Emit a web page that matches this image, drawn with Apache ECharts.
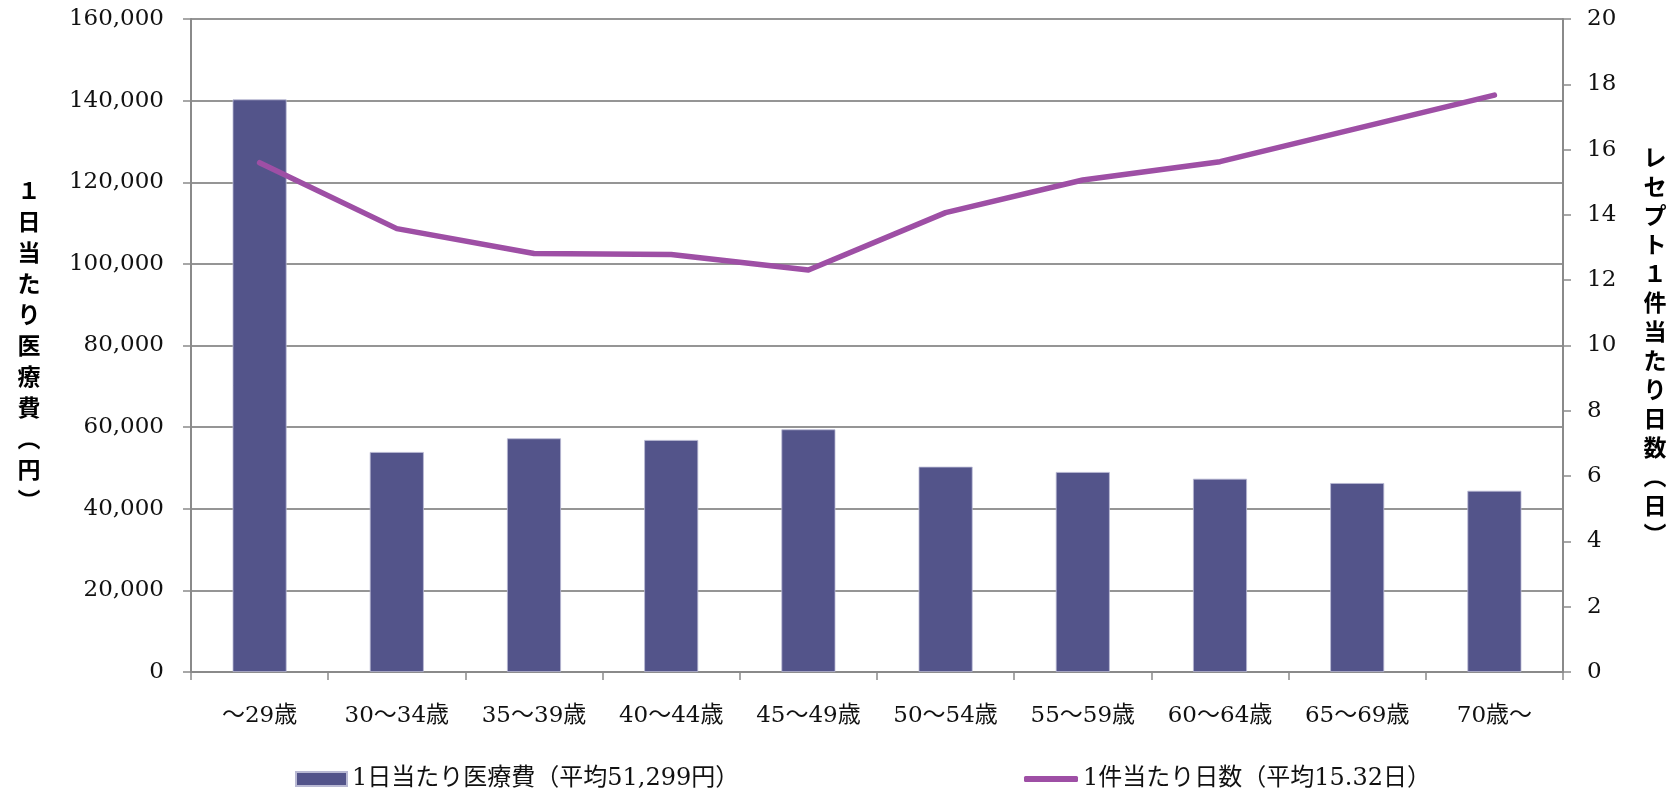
<!DOCTYPE html>
<html>
<head>
<meta charset="utf-8">
<script src="https://cdn.jsdelivr.net/npm/echarts@6/dist/echarts.min.js"></script>
<style>
html,body{margin:0;padding:0;background:#fff;}
#chart{width:1674px;height:791px;}
</style>
</head>
<body>
<div id="chart"></div>
<script>
// ---- data ----
const categories = ['～29歳','30～34歳','35～39歳','40～44歳','45～49歳','50～54歳','55～59歳','60～64歳','65～69歳','70歳～'];
const costPerDay = [140300, 53900, 57250, 56850, 59450, 50300, 49000, 47350, 46300, 44400];
const daysPerClaim = [15.60, 13.58, 12.82, 12.79, 12.31, 14.07, 15.07, 15.63, 16.65, 17.67];
const barName = '1日当たり医療費（平均51,299円）';
const lineName = '1件当たり日数（平均15.32日）';
const leftAxisTitle = '１日当たり医療費︵円︶';
const rightAxisTitle = 'レセプト１件当たり日数︵日︶';

const serif = '"DejaVu Serif", "Noto Sans CJK JP", serif';
const cjkBold = '"Noto Sans CJK JP", sans-serif';
const gridGray = '#959595';
const axisGray = '#8a8a8a';

const chart = echarts.init(document.getElementById('chart'), null, {renderer: 'canvas'});
chart.setOption({
  animation: false,
  backgroundColor: '#ffffff',
  grid: {left: 191, right: 111, top: 19, bottom: 119, containLabel: false},
  legend: [
    {
      data: [{name: barName, icon: 'rect'}], left: 290, top: 762, itemWidth: 51, itemHeight: 14, itemGap: 6,
      textStyle: {fontFamily: serif, fontSize: 24, color: '#111'}
    },
    {
      data: [{name: lineName, icon: 'roundRect'}], left: 1019, top: 762, itemWidth: 54, itemHeight: 6, itemGap: 4,
      textStyle: {fontFamily: serif, fontSize: 24, color: '#111'}
    }
  ],
  xAxis: {
    type: 'category',
    data: categories,
    boundaryGap: true,
    axisLine: {show: true, lineStyle: {color: axisGray, width: 2}},
    axisTick: {show: true, length: 8, alignWithLabel: false, lineStyle: {color: axisGray, width: 1.5}},
    axisLabel: {margin: 33, fontFamily: serif, fontSize: 23, color: '#111', interval: 0}
  },
  yAxis: [
    {
      type: 'value', min: 0, max: 160000, interval: 20000, position: 'left',
      name: leftAxisTitle.split('').join('\n'),
      nameLocation: 'middle', nameRotate: 0, nameGap: 162,
      nameTextStyle: {fontFamily: cjkBold, fontWeight: 'bold', fontSize: 23, lineHeight: 31, color: '#000', align: 'center', verticalAlign: 'middle'},
      axisLine: {show: true, lineStyle: {color: axisGray, width: 2}},
      axisTick: {show: true, length: 8, lineStyle: {color: axisGray, width: 1.5}},
      splitLine: {show: true, lineStyle: {color: gridGray, width: 2}},
      axisLabel: {
        margin: 27, fontFamily: serif, fontSize: 23, color: '#111',
        formatter: v => v.toLocaleString('en-US')
      }
    },
    {
      type: 'value', min: 0, max: 20, interval: 2, position: 'right',
      name: rightAxisTitle.split('').join('\n'),
      nameLocation: 'middle', nameRotate: 0, nameGap: 92,
      nameTextStyle: {fontFamily: cjkBold, fontWeight: 'bold', fontSize: 23, lineHeight: 29, color: '#000', align: 'center', verticalAlign: 'middle'},
      axisLine: {show: true, lineStyle: {color: axisGray, width: 2}},
      axisTick: {show: true, length: 8, lineStyle: {color: axisGray, width: 1.5}},
      splitLine: {show: false},
      axisLabel: {margin: 24, fontFamily: serif, fontSize: 23, color: '#111'}
    }
  ],
  series: [
    {
      name: barName, type: 'bar', yAxisIndex: 0, data: costPerDay, barWidth: 54,
      itemStyle: {color: '#53548a', borderColor: '#b9b9d3', borderWidth: 0.8}
    },
    {
      name: lineName, type: 'line', yAxisIndex: 1, data: daysPerClaim,
      symbol: 'none', showSymbol: false,
      lineStyle: {color: '#9e4fa5', width: 5.5, cap: 'round', join: 'round'},
      itemStyle: {color: '#9e4fa5'}
    }
  ]
});
</script>
</body>
</html>
